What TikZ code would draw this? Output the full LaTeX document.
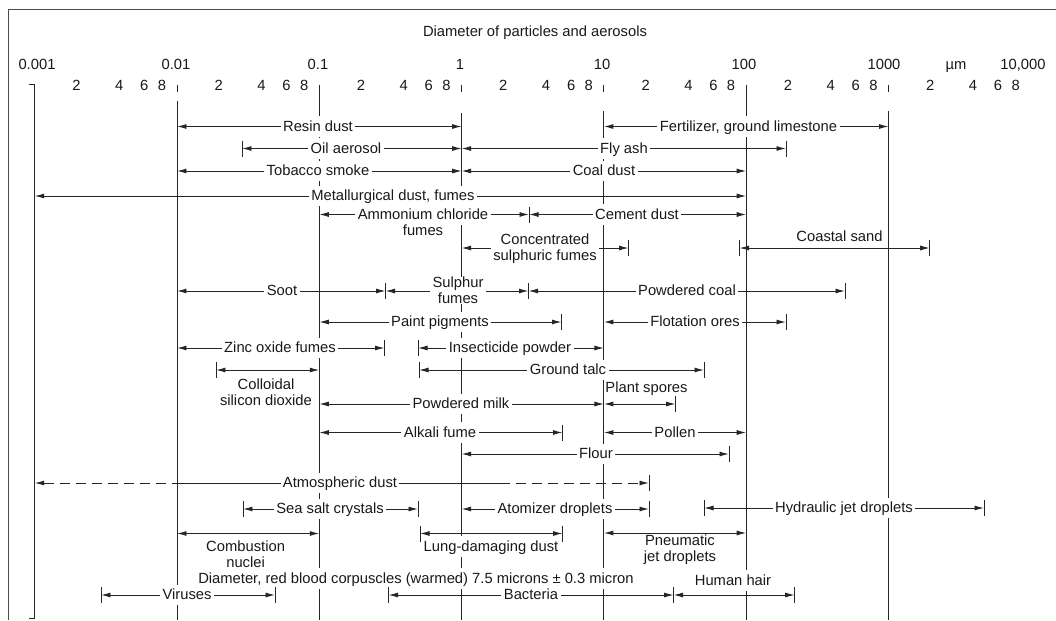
\documentclass[tikz,border=0pt]{standalone}
\usepackage{fontspec}
\setmainfont{Liberation Sans}
\usetikzlibrary{arrows.meta}
\newcommand{\barat}[2]{\draw (#1,#2-8) -- (#1,#2+8);}

\begin{document}
\begin{tikzpicture}[x=0.02cm,y=-0.02cm,line width=0.55pt,color=black!85,
		>={Latex[length=1.9mm,width=1mm]},
		font=\fontsize{8.4}{9.2}\selectfont,
		lbl/.style={fill=white,inner xsep=1.4pt,inner ysep=1pt,text height=0.75em,text depth=0.22em,text=black!90},
		lbl2/.style={fill=white,inner xsep=1.4pt,inner ysep=0pt,align=center,text=black!90},
		rng/.style={<->},
		dsh/.style={dash pattern=on 5.7pt off 3.4pt}]
		\useasboundingbox (0,0) rectangle (1056,620);
		\draw[black!70] (8.4,620) -- (8.4,9.5) -- (1056,9.5);
		\node[lbl] (title) at (535,32) {Diameter of particles and aerosols};
		% scale
		\node[lbl] (d0) at (37,64.4) {0.001};
		\node[lbl] (d1) at (176,64.4) {0.01};
		\node[lbl] (d2) at (318,64.4) {0.1};
		\node[lbl] (d3) at (460,64.4) {1};
		\node[lbl] (d4) at (602,64.4) {10};
		\node[lbl] (d5) at (744,64.4) {100};
		\node[lbl] (d6) at (884,64.4) {1000};
		\node[lbl] (unit) at (956,64.4) {µm};
		\node[lbl] (d7) at (1023,64.4) {10,000};
		\foreach \d in {0,...,6} {
			\foreach \m/\o in {2/42.7,4/85.5,6/110.5,8/128.2} {
				\node[lbl] (m\d\m) at ({34.7+142.3*\d+\o-1},86) {\m};
			}
		}
		\draw (28.5,84.5) -- (34.7,84.5) -- (34.7,618.5) -- (28.5,618.5);
		\foreach \d/\t in {1/101,3/113,4/111,6/111} {
			\draw ({34.7+142.3*\d},84.5) -- ({34.7+142.3*\d},92);
			\draw ({34.7+142.3*\d},\t) -- ({34.7+142.3*\d},620);
		}
		\foreach \d in {2,5} {
			\draw ({34.7+142.3*\d},84.5) -- ({34.7+142.3*\d},620);
		}
		% ranges
		\draw[rng] (177,126.5) -- (461.6,126.5);
		\node[lbl] (resin) at (318,126.5) {Resin dust};
		\draw[rng] (603.9,126.5) -- (888.5,126.5);
		\node[lbl] (fert) at (748.5,126.5) {Fertilizer, ground limestone};
		\draw[rng] (242,148.5) -- (461.6,148.5); \barat{242}{148.5}
		\node[lbl] (oil) at (346,148.5) {Oil aerosol};
		\draw[rng] (461.6,148.5) -- (786,148.5); \barat{786}{148.5}
		\node[lbl] (flyash) at (624,148.5) {Fly ash};
		\draw[rng] (177,171) -- (461.6,171);
		\node[lbl] (tobacco) at (318,171) {Tobacco smoke};
		\draw[rng] (461.6,171) -- (746.2,171);
		\node[lbl] (coal) at (604,171) {Coal dust};
		\draw[rng] (34.7,196) -- (746.2,196);
		\node[lbl] (metal) at (393,196) {Metallurgical dust, fumes};
		\draw[rng] (319.3,214.5) -- (529,214.5); \barat{529}{214.5}
		\node[lbl] (ammon) at (423,214.5) {Ammonium chloride};
		\node[lbl] (ammonb) at (423,231) {fumes};
		\draw[rng] (529,214.5) -- (746.2,214.5);
		\node[lbl] (cement) at (637,214.5) {Cement dust};
		\draw[rng] (461.6,248) -- (628.5,248); \barat{628.5}{248}
		\node[lbl2] (sulphuric) at (545,248.5) {Concentrated\\sulphuric fumes};
		\draw[rng] (739.5,248) -- (929.7,248); \barat{739.5}{248} \barat{929.7}{248}
		\node[lbl] (coastal) at (839.5,237) {Coastal sand};
		\draw[rng] (177,291) -- (385.5,291); \barat{385.5}{291}
		\node[lbl] (soot) at (282,291) {Soot};
		\draw[rng] (385.5,291) -- (528.5,291); \barat{528.5}{291}
		\node[lbl2] (sulphur) at (458,290.5) {Sulphur\\fumes};
		\draw[rng] (528.5,291) -- (845,291); \barat{845}{291}
		\node[lbl] (pcoal) at (687,291) {Powdered coal};
		\draw[rng] (319.3,322) -- (561.5,322); \barat{561.5}{322}
		\node[lbl] (paint) at (440,322) {Paint pigments};
		\draw[rng] (603.9,322) -- (786,322); \barat{786}{322}
		\node[lbl] (flotation) at (695,322) {Flotation ores};
		\draw[rng] (177,348) -- (384.5,348); \barat{384.5}{348}
		\node[lbl] (zinc) at (280,348) {Zinc oxide fumes};
		\draw[rng] (418,348) -- (603.9,348); \barat{418}{348}
		\node[lbl] (insect) at (510,348) {Insecticide powder};
		\draw[rng] (216,370) -- (319.3,370); \barat{216}{370}
		\node[lbl2] (colloid) at (266,392) {Colloidal\\silicon dioxide};
		\draw[rng] (419,370) -- (704,370); \barat{419}{370} \barat{704}{370}
		\node[lbl] (talc) at (568,370) {Ground talc};
		\draw[rng] (319.3,404) -- (603.9,404);
		\node[lbl] (milk) at (461,404) {Powdered milk};
		\draw[rng] (603.9,404) -- (675.5,404); \barat{675.5}{404}
		\node[lbl,fill=none,anchor=west,inner xsep=0pt] (spores) at (605,387.5) {Plant spores};
		\draw[rng] (319.3,432.5) -- (562.5,432.5); \barat{562.5}{432.5}
		\node[lbl] (alkali) at (440,432.5) {Alkali fume};
		\draw[rng] (603.9,432.5) -- (746.2,432.5);
		\node[lbl] (pollen) at (675,432.5) {Pollen};
		\draw[rng] (461.6,454) -- (729,454); \barat{729}{454}
		\node[lbl] (flour) at (596,454) {Flour};
		\draw[<-,dsh] (34.7,483) -- (177,483);
		\draw (177,483) -- (500,483);
		\draw[->,dsh] (500,483) -- (649,483); \barat{649}{483}
		\node[lbl] (atmos) at (340,483) {Atmospheric dust};
		\draw[rng] (243,509) -- (418,509); \barat{243}{509} \barat{418}{509}
		\node[lbl] (seasalt) at (330,509) {Sea salt crystals};
		\draw[rng] (461.6,509) -- (649,509); \barat{649}{509}
		\node[lbl] (atomizer) at (555,509) {Atomizer droplets};
		\draw[rng] (704,508) -- (984,508); \barat{704}{508} \barat{984}{508}
		\node[lbl] (hydraulic) at (844,508) {Hydraulic jet droplets};
		\draw[rng] (177,533.5) -- (319.3,533.5);
		\node[lbl2] (combustion) at (245.6,554) {Combustion\\nuclei};
		\draw[rng] (420,533.5) -- (562.5,533.5); \barat{420}{533.5} \barat{562.5}{533.5}
		\node[lbl] (lung) at (491,546.5) {Lung-damaging dust};
		\draw[rng] (603.9,533) -- (746.2,533);
		\node[lbl2] (pneumatic) at (680,550) {Pneumatic\\jet droplets};
		\node[lbl] (blood) at (416,578.5) {Diameter, red blood corpuscles (warmed) 7.5 microns ± 0.3 micron};
		\node[lbl] (hair) at (733,580.5) {Human hair};
		\draw[rng] (101,595) -- (275,595); \barat{101}{595} \barat{275}{595}
		\node[lbl] (viruses) at (187,595) {Viruses};
		\draw[rng] (388.5,595) -- (673.6,595); \barat{388.5}{595}
		\node[lbl] (bacteria) at (531,595) {Bacteria};
		\draw[rng] (673.6,595) -- (794.6,595); \barat{673.6}{595} \barat{794.6}{595}
	\end{tikzpicture}
\end{document}
